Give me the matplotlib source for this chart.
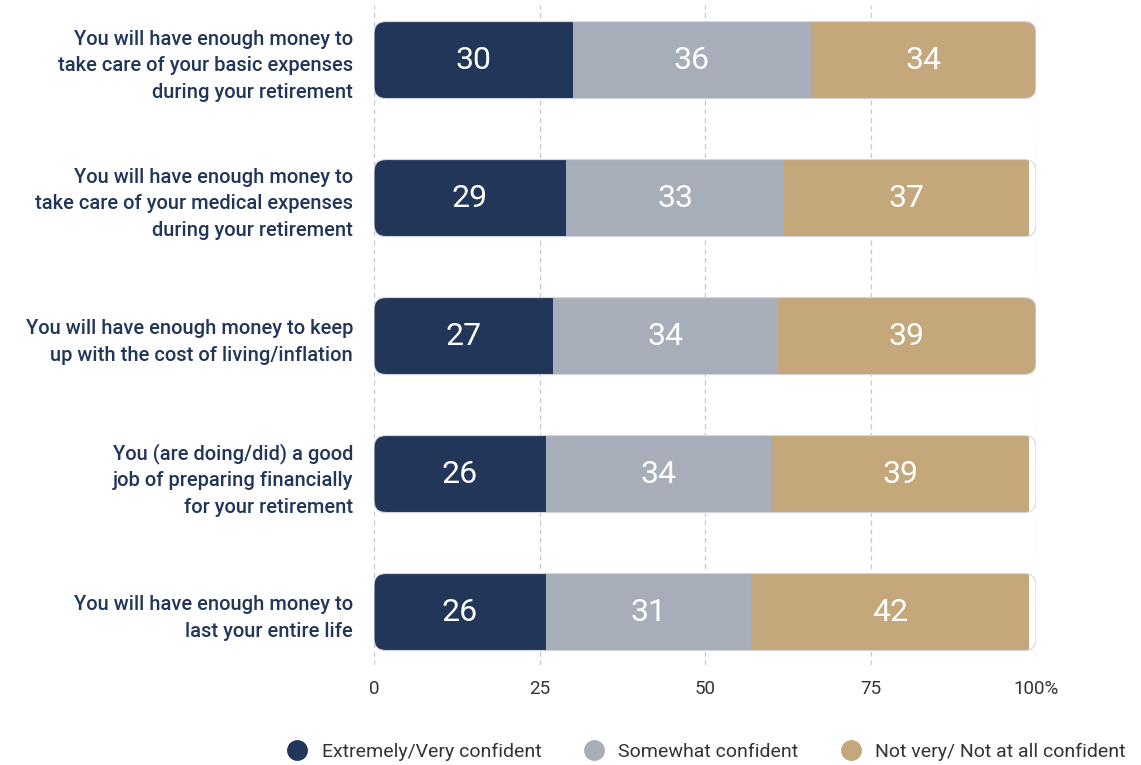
import matplotlib
matplotlib.use('Agg')
import matplotlib.pyplot as plt
from matplotlib.patches import FancyBboxPatch
from matplotlib.lines import Line2D

plt.rcParams['font.family'] = ['Roboto', 'DejaVu Sans']

statements = [
    'You will have enough money to\ntake care of your basic expenses\nduring your retirement',
    'You will have enough money to\ntake care of your medical expenses\nduring your retirement',
    'You will have enough money to keep\nup with the cost of living/inflation',
    'You (are doing/did) a good\njob of preparing financially\nfor your retirement',
    'You will have enough money to\nlast your entire life',
]
very_confident = [30, 29, 27, 26, 26]
somewhat_confident = [36, 33, 34, 34, 31]
not_confident = [34, 37, 39, 39, 42]

series_names = ['Extremely/Very confident', 'Somewhat confident', 'Not very/ Not at all confident']
colors = ['#22365A', '#A8AEB9', '#C4A77B']
tick_vals = [0, 25, 50, 75, 100]
tick_text = ['0', '25', '50', '75', '100%']

NAVY = '#22365A'
fig = plt.figure(figsize=(11.41, 7.65), dpi=100)
ax = fig.add_axes([374/1141, 1-665/765, (1036-374)/1141, 660/765])

bar_h = 77/138
series = [very_confident, somewhat_confident, not_confident]
for i in range(len(statements)):
    # rounded track used as clip path for the stacked segments
    track = FancyBboxPatch((0, i - bar_h/2), 100, bar_h,
                           boxstyle='round,pad=0,rounding_size=1.8',
                           mutation_aspect=0.087/1.8,
                           fc='none', ec='#D3D6DD', lw=0.8, zorder=4)
    ax.add_patch(track)
    left = 0
    for vals, col in zip(series, colors):
        v = vals[i]
        b = ax.barh(i, v, left=left, height=bar_h, color=col, lw=0, zorder=3)
        for p in b.patches:
            p.set_clip_path(track)
        ax.text(left + v/2, i, f'{v}', ha='center', va='center',
                color='white', fontsize=23, zorder=5)
        left += v

ax.set_xlim(0, 100)
ax.set_ylim(4.384, -0.399)
ax.set_xticks(tick_vals, tick_text)
ax.set_yticks(range(len(statements)), statements)
for lbl in ax.get_yticklabels():
    lbl.set_multialignment('right')
    lbl.set_linespacing(1.5)
    lbl.set_fontweight('medium')
ax.tick_params(axis='y', length=0, pad=15, labelsize=14.5, labelcolor=NAVY)
ax.tick_params(axis='x', length=0, pad=11, labelsize=13.5, labelcolor='#333333')
for s in ax.spines.values():
    s.set_visible(False)
ax.grid(axis='x', ls=(0, (4, 3)), color='#C5C8D3', lw=0.9, zorder=0)
ax.set_axisbelow(True)

handles = [Line2D([], [], marker='o', ls='none', ms=14, mfc=c, mec=c) for c in colors]
fig.legend(handles, series_names, loc='center', bbox_to_anchor=(0.615, 1-752/765),
           ncol=3, frameon=False, fontsize=14, labelcolor='#333333',
           handletextpad=0.25, columnspacing=1.7)

fig.savefig('out.png', dpi=100)
